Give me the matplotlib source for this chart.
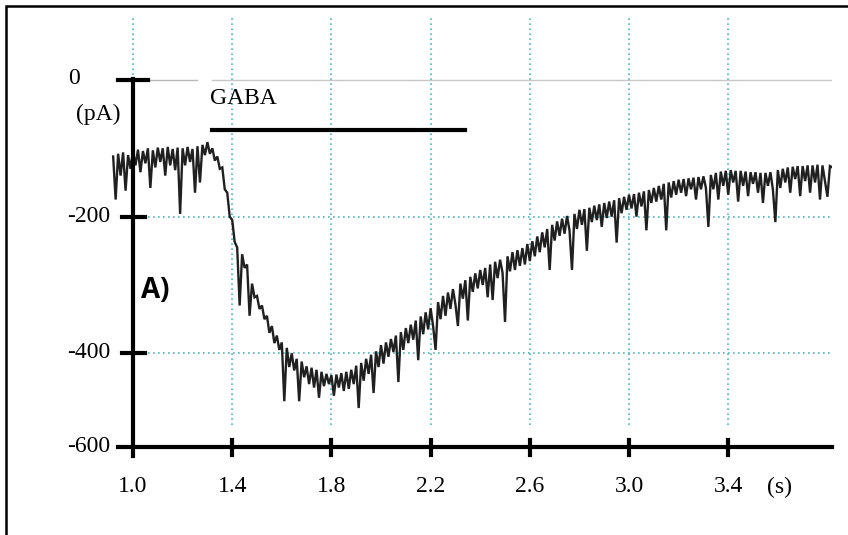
import numpy as np
import matplotlib
matplotlib.use("Agg")
import matplotlib.pyplot as plt
from matplotlib.patches import Rectangle

# recorded membrane current (pA), sampled every 10 ms from 0.92 s
trace_start = 0.92
trace_step = 0.01
current_pa = [
    -112, -175, -108, -140, -106, -162, -110, -130, -104, -125,   # 0.92
    -102, -135, -104, -122, -100, -158, -103, -128, -99, -120,    # 1.02
    -100, -140, -98, -125, -101, -132, -99, -196, -100, -125,     # 1.12
    -98, -120, -101, -165, -97, -150, -95, -110, -91, -108,       # 1.22
    -100, -118, -112, -130, -128, -160, -165, -200, -205, -237,   # 1.32
    -245, -330, -255, -275, -270, -345, -298, -318, -316, -335,   # 1.42
    -330, -350, -345, -370, -360, -385, -374, -395, -384, -470,   # 1.52
    -392, -420, -400, -425, -408, -470, -412, -435, -419, -445,   # 1.62
    -421, -450, -424, -465, -427, -448, -430, -445, -432, -462,   # 1.72
    -431, -450, -429, -455, -427, -452, -424, -445, -418, -480,   # 1.82
    -414, -440, -408, -430, -402, -458, -397, -420, -388, -415,   # 1.92
    -384, -405, -379, -398, -374, -442, -369, -395, -363, -385,   # 2.02
    -358, -380, -352, -410, -346, -372, -340, -365, -334, -360,   # 2.12
    -395, -325, -350, -316, -345, -311, -335, -306, -328, -360,   # 2.22
    -298, -320, -293, -352, -288, -310, -283, -305, -278, -300,   # 2.32
    -275, -318, -270, -322, -266, -290, -263, -282, -354, -258,   # 2.42
    -280, -252, -278, -249, -272, -246, -270, -240, -265, -236,   # 2.52
    -258, -229, -252, -223, -245, -218, -278, -212, -235, -207,   # 2.62
    -228, -203, -225, -199, -220, -278, -196, -218, -190, -212,   # 2.72
    -189, -250, -187, -208, -184, -205, -182, -215, -180, -202,   # 2.82
    -178, -200, -176, -238, -173, -195, -171, -190, -168, -188,   # 2.92
    -167, -200, -165, -185, -163, -220, -161, -180, -158, -178,   # 3.02
    -155, -175, -152, -220, -150, -172, -148, -168, -146, -165,   # 3.12
    -145, -170, -144, -160, -143, -175, -142, -160, -141, -158,   # 3.22
    -215, -139, -160, -136, -175, -134, -155, -133, -168, -132,   # 3.32
    -150, -133, -178, -133, -155, -134, -170, -135, -152, -135,   # 3.42
    -165, -136, -180, -136, -155, -135, -160, -208, -132, -158,   # 3.52
    -130, -150, -128, -165, -127, -145, -126, -170, -126, -148,   # 3.62
    -125, -165, -125, -150, -124, -175, -125, -148, -171, -126,   # 3.72
    -128,                                                          # 3.82
]

x_ticks = [1.0, 1.4, 1.8, 2.2, 2.6, 3.0, 3.4]
x_labels = ["1.0", "1.4", "1.8", "2.2", "2.6", "3.0", "3.4"]
y_grid = [-200, -400]
y_labels = ["0", "-200", "-400", "-600"]
gaba_on, gaba_off = 1.32, 2.34

W, H = 848, 535
serif = "Liberation Serif"
grid_col = "#4db6bf"

def px(x, y):
    # pixel position -> figure fraction
    return x / W, 1 - y / H

fig = plt.figure(figsize=(W / 100, H / 100), dpi=100)
ax = fig.add_axes([108.2 / W, (H - 447) / H, 724.2 / W, 432 / H])
ax.set_xlim(0.9, 3.82)
ax.set_ylim(-537, 95)
ax.axis("off")

# dotted grid
for xt in x_ticks:
    ax.plot([xt, xt], [-505, 95], color=grid_col, lw=1.2, ls=(0, (1, 2)), zorder=1)
for yg in y_grid:
    ax.plot([1.0, 3.82], [yg, yg], color=grid_col, lw=1.2, ls=(0, (1, 2)), zorder=1)
ax.plot([1.06, 1.26], [0, 0], color="#b8b8b8", lw=1, zorder=1)
ax.plot([1.32, 3.82], [0, 0], color="#c8c8c8", lw=1, zorder=1)

# trace
t = trace_start + trace_step * np.arange(len(current_pa))
ax.plot(t, current_pa, color="#202020", lw=1.7, zorder=3, solid_joinstyle="miter")

# axes drawn by hand, thick
ax.plot([1.0, 1.0], [2, -550], color="black", lw=3, zorder=4, clip_on=False)
ax.plot([0.94, 3.82], [-537, -537], color="black", lw=3, zorder=4, clip_on=False)
ax.plot([0.94, 1.062], [0, 0], color="black", lw=3, zorder=4, clip_on=False)
for yg in y_grid:
    ax.plot([0.956, 1.048], [yg, yg], color="black", lw=3, zorder=4, clip_on=False)
for xt in x_ticks[1:]:
    ax.plot([xt, xt], [-527, -549], color="black", lw=3, zorder=4, clip_on=False)

# GABA application bar
ax.plot([gaba_on, gaba_off], [-73, -73], color="black", lw=3, zorder=4)

# labels
fs = 17
fig.text(*px(74, 78), y_labels[0], fontsize=fs, family=serif, ha="center", va="center")
fig.text(*px(98, 114), "(pA)", fontsize=fs, family=serif, ha="center", va="center")
for lab, yp in zip(y_labels[1:], [216, 353, 447]):
    fig.text(*px(110, yp), lab, fontsize=fs, family=serif, ha="right", va="center")
for xt, lab in zip(x_ticks, x_labels):
    fig.text(*px(133 + (xt - 1.0) * 248, 487), lab, fontsize=fs, family=serif,
             ha="center", va="center")
fig.text(*px(780, 487), "(s)", fontsize=fs, family=serif, ha="center", va="center")
fig.text(*px(243, 99), "GABA", fontsize=fs, family=serif, ha="center", va="center")
fig.text(*px(155, 291), "A)", fontsize=20, family="Open Sans", weight="bold",
         ha="center", va="center")

# image frame (right and bottom edges fall outside the picture)
fig.add_artist(Rectangle(px(6, 700), 900 / W, 694 / H, transform=fig.transFigure,
                         fill=False, lw=1.8, ec="black"))

fig.savefig("out.png", dpi=100)
